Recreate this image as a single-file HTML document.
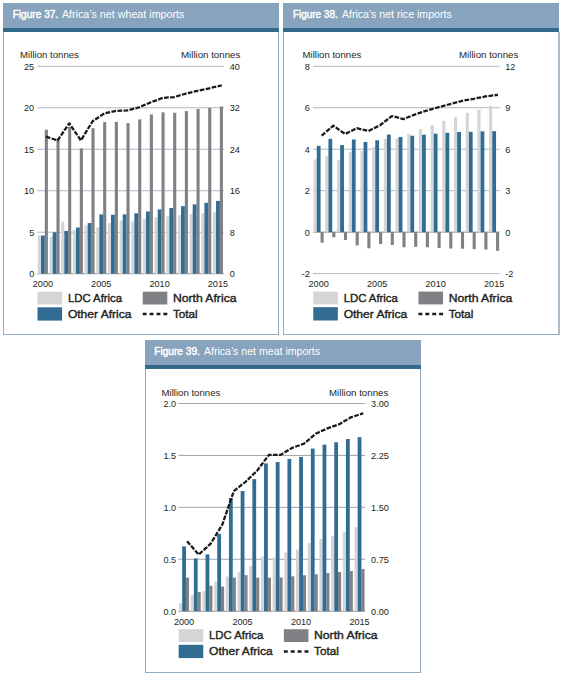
<!DOCTYPE html>
<html><head><meta charset="utf-8"><style>html,body{margin:0;padding:0;background:#fff;width:563px;height:676px;overflow:hidden}</style></head><body>
<svg width="563" height="676" viewBox="0 0 563 676" style="display:block" font-family='"Liberation Sans", sans-serif'>
<rect width="563" height="676" fill="#fff"/>
<rect x="3.5" y="3.5" width="275" height="331" fill="#fff" stroke="#93aac0" stroke-width="1"/>
<rect x="3" y="3" width="276" height="25" fill="#87a3bd"/>
<rect x="3" y="28" width="276" height="4" fill="#33698d"/>
<text x="12.7" y="17.5" font-size="10.2" font-weight="400" text-anchor="start" fill="#ffffff" textLength="45.5" lengthAdjust="spacingAndGlyphs" stroke="#ffffff" stroke-width="0.45">Figure 37.</text>
<text x="61.9" y="17.5" font-size="10.2" font-weight="400" text-anchor="start" fill="#ffffff" textLength="122.5" lengthAdjust="spacingAndGlyphs">Africa’s net wheat imports</text>
<line x1="37.3" x2="223.9" y1="66.3" y2="66.3" stroke="#adb9c6" stroke-width="1"/>
<line x1="37.3" x2="223.9" y1="107.78" y2="107.78" stroke="#adb9c6" stroke-width="1"/>
<line x1="37.3" x2="223.9" y1="149.26" y2="149.26" stroke="#adb9c6" stroke-width="1"/>
<line x1="37.3" x2="223.9" y1="190.74" y2="190.74" stroke="#adb9c6" stroke-width="1"/>
<line x1="37.3" x2="223.9" y1="232.22" y2="232.22" stroke="#adb9c6" stroke-width="1"/>
<line x1="37.3" x2="223.9" y1="273.7" y2="273.7" stroke="#8a8a8a" stroke-width="1"/>
<rect x="37.85" y="235.54" width="3.15" height="38.16" fill="#d4d5d7"/>
<rect x="44.8" y="129.68" width="3.1" height="144.02" fill="#808184"/>
<rect x="41" y="235.54" width="3.8" height="38.16" fill="#336c92"/>
<rect x="49.52" y="236.78" width="3.15" height="36.92" fill="#d4d5d7"/>
<rect x="56.47" y="138.81" width="3.1" height="134.89" fill="#808184"/>
<rect x="52.67" y="232.3" width="3.8" height="41.4" fill="#336c92"/>
<rect x="61.19" y="221.68" width="3.15" height="52.02" fill="#d4d5d7"/>
<rect x="68.14" y="126.78" width="3.1" height="146.92" fill="#808184"/>
<rect x="64.34" y="230.98" width="3.8" height="42.72" fill="#336c92"/>
<rect x="72.86" y="229.9" width="3.15" height="43.8" fill="#d4d5d7"/>
<rect x="79.81" y="148.35" width="3.1" height="125.35" fill="#808184"/>
<rect x="76.01" y="227.49" width="3.8" height="46.21" fill="#336c92"/>
<rect x="84.53" y="225.33" width="3.15" height="48.37" fill="#d4d5d7"/>
<rect x="91.48" y="128.11" width="3.1" height="145.59" fill="#808184"/>
<rect x="87.68" y="223.09" width="3.8" height="50.61" fill="#336c92"/>
<rect x="96.2" y="227.24" width="3.15" height="46.46" fill="#d4d5d7"/>
<rect x="103.15" y="122.13" width="3.1" height="151.57" fill="#808184"/>
<rect x="99.35" y="214.38" width="3.8" height="59.32" fill="#336c92"/>
<rect x="107.87" y="223.09" width="3.15" height="50.61" fill="#d4d5d7"/>
<rect x="114.82" y="121.88" width="3.1" height="151.82" fill="#808184"/>
<rect x="111.02" y="214.8" width="3.8" height="58.9" fill="#336c92"/>
<rect x="119.54" y="220.61" width="3.15" height="53.09" fill="#d4d5d7"/>
<rect x="126.49" y="123.13" width="3.1" height="150.57" fill="#808184"/>
<rect x="122.69" y="214.38" width="3.8" height="59.32" fill="#336c92"/>
<rect x="131.21" y="221.44" width="3.15" height="52.26" fill="#d4d5d7"/>
<rect x="138.16" y="119.39" width="3.1" height="154.31" fill="#808184"/>
<rect x="134.36" y="213.31" width="3.8" height="60.39" fill="#336c92"/>
<rect x="142.88" y="218.95" width="3.15" height="54.75" fill="#d4d5d7"/>
<rect x="149.83" y="114.42" width="3.1" height="159.28" fill="#808184"/>
<rect x="146.03" y="211.48" width="3.8" height="62.22" fill="#336c92"/>
<rect x="154.55" y="217.29" width="3.15" height="56.41" fill="#d4d5d7"/>
<rect x="161.5" y="112.34" width="3.1" height="161.36" fill="#808184"/>
<rect x="157.7" y="209.41" width="3.8" height="64.29" fill="#336c92"/>
<rect x="166.22" y="216.46" width="3.15" height="57.24" fill="#d4d5d7"/>
<rect x="173.17" y="112.76" width="3.1" height="160.94" fill="#808184"/>
<rect x="169.37" y="208" width="3.8" height="65.7" fill="#336c92"/>
<rect x="177.89" y="215.05" width="3.15" height="58.65" fill="#d4d5d7"/>
<rect x="184.84" y="111.1" width="3.1" height="162.6" fill="#808184"/>
<rect x="181.04" y="206.17" width="3.8" height="67.53" fill="#336c92"/>
<rect x="189.56" y="213.97" width="3.15" height="59.73" fill="#d4d5d7"/>
<rect x="196.51" y="109.02" width="3.1" height="164.68" fill="#808184"/>
<rect x="192.71" y="204.35" width="3.8" height="69.35" fill="#336c92"/>
<rect x="201.23" y="213.14" width="3.15" height="60.56" fill="#d4d5d7"/>
<rect x="208.18" y="107.78" width="3.1" height="165.92" fill="#808184"/>
<rect x="204.38" y="202.77" width="3.8" height="70.93" fill="#336c92"/>
<rect x="212.9" y="211.89" width="3.15" height="61.81" fill="#d4d5d7"/>
<rect x="219.85" y="106.54" width="3.1" height="167.16" fill="#808184"/>
<rect x="216.05" y="200.94" width="3.8" height="72.76" fill="#336c92"/>
<polyline points="45.9,136.56 57.57,140.45 69.24,123.34 80.91,140.45 92.58,121.26 104.25,113.48 115.92,110.89 127.59,110.37 139.26,107.26 150.93,102.28 162.6,97.93 174.27,97.05 185.94,93.57 197.61,90.77 209.28,88.28 221.73,85.41" fill="none" stroke="#1a1a1a" stroke-width="2.3" stroke-dasharray="4.7 1.4" stroke-linejoin="round"/>
<text x="34.2" y="69.9" font-size="9.9" font-weight="400" text-anchor="end" fill="#231f20" textLength="10.14" lengthAdjust="spacingAndGlyphs">25</text>
<text x="229.7" y="69.9" font-size="9.9" font-weight="400" text-anchor="start" fill="#231f20" textLength="10.14" lengthAdjust="spacingAndGlyphs">40</text>
<text x="34.2" y="111.38" font-size="9.9" font-weight="400" text-anchor="end" fill="#231f20" textLength="10.14" lengthAdjust="spacingAndGlyphs">20</text>
<text x="229.7" y="111.38" font-size="9.9" font-weight="400" text-anchor="start" fill="#231f20" textLength="10.14" lengthAdjust="spacingAndGlyphs">32</text>
<text x="34.2" y="152.86" font-size="9.9" font-weight="400" text-anchor="end" fill="#231f20" textLength="10.14" lengthAdjust="spacingAndGlyphs">15</text>
<text x="229.7" y="152.86" font-size="9.9" font-weight="400" text-anchor="start" fill="#231f20" textLength="10.14" lengthAdjust="spacingAndGlyphs">24</text>
<text x="34.2" y="194.34" font-size="9.9" font-weight="400" text-anchor="end" fill="#231f20" textLength="10.14" lengthAdjust="spacingAndGlyphs">10</text>
<text x="229.7" y="194.34" font-size="9.9" font-weight="400" text-anchor="start" fill="#231f20" textLength="10.14" lengthAdjust="spacingAndGlyphs">16</text>
<text x="34.2" y="235.82" font-size="9.9" font-weight="400" text-anchor="end" fill="#231f20" textLength="5.07" lengthAdjust="spacingAndGlyphs">5</text>
<text x="229.7" y="235.82" font-size="9.9" font-weight="400" text-anchor="start" fill="#231f20" textLength="5.07" lengthAdjust="spacingAndGlyphs">8</text>
<text x="34.2" y="277.3" font-size="9.9" font-weight="400" text-anchor="end" fill="#231f20" textLength="5.07" lengthAdjust="spacingAndGlyphs">0</text>
<text x="229.7" y="277.3" font-size="9.9" font-weight="400" text-anchor="start" fill="#231f20" textLength="5.07" lengthAdjust="spacingAndGlyphs">0</text>
<text x="42.9" y="287.3" font-size="9.8" font-weight="400" text-anchor="middle" fill="#231f20" textLength="20.3" lengthAdjust="spacingAndGlyphs">2000</text>
<text x="101.25" y="287.3" font-size="9.8" font-weight="400" text-anchor="middle" fill="#231f20" textLength="20.3" lengthAdjust="spacingAndGlyphs">2005</text>
<text x="159.6" y="287.3" font-size="9.8" font-weight="400" text-anchor="middle" fill="#231f20" textLength="20.3" lengthAdjust="spacingAndGlyphs">2010</text>
<text x="217.95" y="287.3" font-size="9.8" font-weight="400" text-anchor="middle" fill="#231f20" textLength="20.3" lengthAdjust="spacingAndGlyphs">2015</text>
<text x="20.1" y="58.2" font-size="9.5" font-weight="400" text-anchor="start" fill="#231f20" textLength="58.8" lengthAdjust="spacingAndGlyphs">Million tonnes</text>
<text x="240.3" y="58.2" font-size="9.5" font-weight="400" text-anchor="end" fill="#231f20" textLength="59.3" lengthAdjust="spacingAndGlyphs">Million tonnes</text>
<rect x="37.5" y="291.7" width="24.6" height="12.8" fill="#d4d5d7"/>
<rect x="37.5" y="307.3" width="24.6" height="13.3" fill="#336c92"/>
<rect x="142.7" y="291.7" width="24.6" height="12.8" fill="#808184"/>
<line x1="142.7" x2="167.3" y1="314" y2="314" stroke="#1a1a1a" stroke-width="2.5" stroke-dasharray="3.9 3.0"/>
<text x="67.9" y="301.6" font-size="11" font-weight="400" text-anchor="start" fill="#231f20" textLength="54.2" lengthAdjust="spacingAndGlyphs" stroke="#231f20" stroke-width="0.38">LDC Africa</text>
<text x="67.9" y="317.6" font-size="11" font-weight="400" text-anchor="start" fill="#231f20" textLength="63.6" lengthAdjust="spacingAndGlyphs" stroke="#231f20" stroke-width="0.38">Other Africa</text>
<text x="172.9" y="301.6" font-size="11" font-weight="400" text-anchor="start" fill="#231f20" textLength="63.6" lengthAdjust="spacingAndGlyphs" stroke="#231f20" stroke-width="0.38">North Africa</text>
<text x="172.9" y="317.6" font-size="11" font-weight="400" text-anchor="start" fill="#231f20" textLength="24.8" lengthAdjust="spacingAndGlyphs" stroke="#231f20" stroke-width="0.38">Total</text>
<rect x="283.5" y="3.5" width="275" height="331" fill="#fff" stroke="#93aac0" stroke-width="1"/>
<rect x="283" y="3" width="276" height="25" fill="#87a3bd"/>
<rect x="283" y="28" width="276" height="4" fill="#33698d"/>
<text x="292.9" y="17.5" font-size="10.2" font-weight="400" text-anchor="start" fill="#ffffff" textLength="44.8" lengthAdjust="spacingAndGlyphs" stroke="#ffffff" stroke-width="0.45">Figure 38.</text>
<text x="341.9" y="17.5" font-size="10.2" font-weight="400" text-anchor="start" fill="#ffffff" textLength="109.8" lengthAdjust="spacingAndGlyphs">Africa’s net rice imports</text>
<line x1="313.05" x2="499.65" y1="66.3" y2="66.3" stroke="#adb9c6" stroke-width="1"/>
<line x1="313.05" x2="499.65" y1="107.76" y2="107.76" stroke="#adb9c6" stroke-width="1"/>
<line x1="313.05" x2="499.65" y1="149.22" y2="149.22" stroke="#adb9c6" stroke-width="1"/>
<line x1="313.05" x2="499.65" y1="190.68" y2="190.68" stroke="#adb9c6" stroke-width="1"/>
<line x1="313.05" x2="499.65" y1="273.6" y2="273.6" stroke="#adb9c6" stroke-width="1"/>
<line x1="313.05" x2="499.65" y1="232.14" y2="232.14" stroke="#8a8a8a" stroke-width="1"/>
<rect x="313.6" y="159.38" width="3.15" height="72.76" fill="#d4d5d7"/>
<rect x="320.55" y="232.14" width="3.1" height="10.57" fill="#808184"/>
<rect x="316.75" y="145.9" width="3.8" height="86.24" fill="#336c92"/>
<rect x="325.3" y="155.65" width="3.15" height="76.49" fill="#d4d5d7"/>
<rect x="332.25" y="232.14" width="3.1" height="5.18" fill="#808184"/>
<rect x="328.45" y="138.86" width="3.8" height="93.28" fill="#336c92"/>
<rect x="337" y="160" width="3.15" height="72.14" fill="#d4d5d7"/>
<rect x="343.95" y="232.14" width="3.1" height="7.88" fill="#808184"/>
<rect x="340.15" y="145.07" width="3.8" height="87.07" fill="#336c92"/>
<rect x="348.7" y="151.91" width="3.15" height="80.23" fill="#d4d5d7"/>
<rect x="355.65" y="232.14" width="3.1" height="13.27" fill="#808184"/>
<rect x="351.85" y="139.48" width="3.8" height="92.66" fill="#336c92"/>
<rect x="360.4" y="150.88" width="3.15" height="81.26" fill="#d4d5d7"/>
<rect x="367.35" y="232.14" width="3.1" height="16.17" fill="#808184"/>
<rect x="363.55" y="141.96" width="3.8" height="90.18" fill="#336c92"/>
<rect x="372.1" y="146.94" width="3.15" height="85.2" fill="#d4d5d7"/>
<rect x="379.05" y="232.14" width="3.1" height="11.82" fill="#808184"/>
<rect x="375.25" y="140.31" width="3.8" height="91.83" fill="#336c92"/>
<rect x="383.8" y="138.86" width="3.15" height="93.28" fill="#d4d5d7"/>
<rect x="390.75" y="232.14" width="3.1" height="12.85" fill="#808184"/>
<rect x="386.95" y="134.5" width="3.8" height="97.64" fill="#336c92"/>
<rect x="395.5" y="138.44" width="3.15" height="93.7" fill="#d4d5d7"/>
<rect x="402.45" y="232.14" width="3.1" height="15.13" fill="#808184"/>
<rect x="398.65" y="136.99" width="3.8" height="95.15" fill="#336c92"/>
<rect x="407.2" y="133.88" width="3.15" height="98.26" fill="#d4d5d7"/>
<rect x="414.15" y="232.14" width="3.1" height="14.72" fill="#808184"/>
<rect x="410.35" y="135.75" width="3.8" height="96.39" fill="#336c92"/>
<rect x="418.9" y="128.9" width="3.15" height="103.24" fill="#d4d5d7"/>
<rect x="425.85" y="232.14" width="3.1" height="15.13" fill="#808184"/>
<rect x="422.05" y="134.71" width="3.8" height="97.43" fill="#336c92"/>
<rect x="430.6" y="125.17" width="3.15" height="106.97" fill="#d4d5d7"/>
<rect x="437.55" y="232.14" width="3.1" height="15.75" fill="#808184"/>
<rect x="433.75" y="133.67" width="3.8" height="98.47" fill="#336c92"/>
<rect x="442.3" y="120.82" width="3.15" height="111.32" fill="#d4d5d7"/>
<rect x="449.25" y="232.14" width="3.1" height="16.38" fill="#808184"/>
<rect x="445.45" y="132.84" width="3.8" height="99.3" fill="#336c92"/>
<rect x="454" y="116.88" width="3.15" height="115.26" fill="#d4d5d7"/>
<rect x="460.95" y="232.14" width="3.1" height="16.58" fill="#808184"/>
<rect x="457.15" y="132.01" width="3.8" height="100.13" fill="#336c92"/>
<rect x="465.7" y="112.94" width="3.15" height="119.2" fill="#d4d5d7"/>
<rect x="472.65" y="232.14" width="3.1" height="17" fill="#808184"/>
<rect x="468.85" y="131.81" width="3.8" height="100.33" fill="#336c92"/>
<rect x="477.4" y="109.83" width="3.15" height="122.31" fill="#d4d5d7"/>
<rect x="484.35" y="232.14" width="3.1" height="17.41" fill="#808184"/>
<rect x="480.55" y="131.39" width="3.8" height="100.75" fill="#336c92"/>
<rect x="489.1" y="105.89" width="3.15" height="126.25" fill="#d4d5d7"/>
<rect x="496.05" y="232.14" width="3.1" height="18.66" fill="#808184"/>
<rect x="492.25" y="131.18" width="3.8" height="100.96" fill="#336c92"/>
<polyline points="321.65,135.68 333.35,125.73 345.05,134.02 356.75,128.21 368.45,130.98 380.15,125.17 391.85,116.05 403.55,119.09 415.25,114.39 426.95,110.52 438.65,107.21 450.35,104.03 462.05,100.85 473.75,98.78 485.45,96.43 497.94,94.8" fill="none" stroke="#1a1a1a" stroke-width="2.3" stroke-dasharray="4.7 1.4" stroke-linejoin="round"/>
<text x="309.9" y="69.9" font-size="9.9" font-weight="400" text-anchor="end" fill="#231f20" textLength="5.07" lengthAdjust="spacingAndGlyphs">8</text>
<text x="505.3" y="69.9" font-size="9.9" font-weight="400" text-anchor="start" fill="#231f20" textLength="10.14" lengthAdjust="spacingAndGlyphs">12</text>
<text x="309.9" y="111.36" font-size="9.9" font-weight="400" text-anchor="end" fill="#231f20" textLength="5.07" lengthAdjust="spacingAndGlyphs">6</text>
<text x="505.3" y="111.36" font-size="9.9" font-weight="400" text-anchor="start" fill="#231f20" textLength="5.07" lengthAdjust="spacingAndGlyphs">9</text>
<text x="309.9" y="152.82" font-size="9.9" font-weight="400" text-anchor="end" fill="#231f20" textLength="5.07" lengthAdjust="spacingAndGlyphs">4</text>
<text x="505.3" y="152.82" font-size="9.9" font-weight="400" text-anchor="start" fill="#231f20" textLength="5.07" lengthAdjust="spacingAndGlyphs">6</text>
<text x="309.9" y="194.28" font-size="9.9" font-weight="400" text-anchor="end" fill="#231f20" textLength="5.07" lengthAdjust="spacingAndGlyphs">2</text>
<text x="505.3" y="194.28" font-size="9.9" font-weight="400" text-anchor="start" fill="#231f20" textLength="5.07" lengthAdjust="spacingAndGlyphs">3</text>
<text x="309.9" y="235.74" font-size="9.9" font-weight="400" text-anchor="end" fill="#231f20" textLength="5.07" lengthAdjust="spacingAndGlyphs">0</text>
<text x="505.3" y="235.74" font-size="9.9" font-weight="400" text-anchor="start" fill="#231f20" textLength="5.07" lengthAdjust="spacingAndGlyphs">0</text>
<text x="309.9" y="277.2" font-size="9.9" font-weight="400" text-anchor="end" fill="#231f20" textLength="8.11" lengthAdjust="spacingAndGlyphs">-2</text>
<text x="505.3" y="277.2" font-size="9.9" font-weight="400" text-anchor="start" fill="#231f20" textLength="8.11" lengthAdjust="spacingAndGlyphs">-2</text>
<text x="318.65" y="287.2" font-size="9.8" font-weight="400" text-anchor="middle" fill="#231f20" textLength="20.3" lengthAdjust="spacingAndGlyphs">2000</text>
<text x="377.15" y="287.2" font-size="9.8" font-weight="400" text-anchor="middle" fill="#231f20" textLength="20.3" lengthAdjust="spacingAndGlyphs">2005</text>
<text x="435.65" y="287.2" font-size="9.8" font-weight="400" text-anchor="middle" fill="#231f20" textLength="20.3" lengthAdjust="spacingAndGlyphs">2010</text>
<text x="494.15" y="287.2" font-size="9.8" font-weight="400" text-anchor="middle" fill="#231f20" textLength="20.3" lengthAdjust="spacingAndGlyphs">2015</text>
<text x="302.5" y="58.2" font-size="9.5" font-weight="400" text-anchor="start" fill="#231f20" textLength="58.8" lengthAdjust="spacingAndGlyphs">Million tonnes</text>
<text x="518.3" y="58.2" font-size="9.5" font-weight="400" text-anchor="end" fill="#231f20" textLength="59.3" lengthAdjust="spacingAndGlyphs">Million tonnes</text>
<rect x="313.25" y="291.6" width="24.6" height="12.8" fill="#d4d5d7"/>
<rect x="313.25" y="307.2" width="24.6" height="13.3" fill="#336c92"/>
<rect x="418.45" y="291.6" width="24.6" height="12.8" fill="#808184"/>
<line x1="418.45" x2="443.05" y1="313.9" y2="313.9" stroke="#1a1a1a" stroke-width="2.5" stroke-dasharray="3.9 3.0"/>
<text x="343.65" y="301.5" font-size="11" font-weight="400" text-anchor="start" fill="#231f20" textLength="54.2" lengthAdjust="spacingAndGlyphs" stroke="#231f20" stroke-width="0.38">LDC Africa</text>
<text x="343.65" y="317.5" font-size="11" font-weight="400" text-anchor="start" fill="#231f20" textLength="63.6" lengthAdjust="spacingAndGlyphs" stroke="#231f20" stroke-width="0.38">Other Africa</text>
<text x="448.65" y="301.5" font-size="11" font-weight="400" text-anchor="start" fill="#231f20" textLength="63.6" lengthAdjust="spacingAndGlyphs" stroke="#231f20" stroke-width="0.38">North Africa</text>
<text x="448.65" y="317.5" font-size="11" font-weight="400" text-anchor="start" fill="#231f20" textLength="24.8" lengthAdjust="spacingAndGlyphs" stroke="#231f20" stroke-width="0.38">Total</text>
<rect x="145.5" y="340.5" width="275" height="332" fill="#fff" stroke="#93aac0" stroke-width="1"/>
<rect x="145" y="340" width="276" height="25" fill="#87a3bd"/>
<rect x="145" y="365" width="276" height="4" fill="#33698d"/>
<text x="154.3" y="354.5" font-size="10.2" font-weight="400" text-anchor="start" fill="#ffffff" textLength="45.6" lengthAdjust="spacingAndGlyphs" stroke="#ffffff" stroke-width="0.45">Figure 39.</text>
<text x="203.9" y="354.5" font-size="10.2" font-weight="400" text-anchor="start" fill="#ffffff" textLength="116.2" lengthAdjust="spacingAndGlyphs">Africa’s net meat imports</text>
<line x1="178.45" x2="365.05" y1="403.5" y2="403.5" stroke="#a4a5a9" stroke-width="1"/>
<line x1="178.45" x2="365.05" y1="455.43" y2="455.43" stroke="#a4a5a9" stroke-width="1"/>
<line x1="178.45" x2="365.05" y1="507.35" y2="507.35" stroke="#a4a5a9" stroke-width="1"/>
<line x1="178.45" x2="365.05" y1="559.28" y2="559.28" stroke="#a4a5a9" stroke-width="1"/>
<line x1="178.45" x2="365.05" y1="611.2" y2="611.2" stroke="#8a8a8a" stroke-width="1"/>
<rect x="179" y="603.1" width="3.15" height="8.1" fill="#d4d5d7"/>
<rect x="185.95" y="577.66" width="3.1" height="33.54" fill="#808184"/>
<rect x="182.15" y="546.4" width="3.8" height="64.8" fill="#336c92"/>
<rect x="190.7" y="595.1" width="3.15" height="16.1" fill="#d4d5d7"/>
<rect x="197.65" y="591.99" width="3.1" height="19.21" fill="#808184"/>
<rect x="193.85" y="558.44" width="3.8" height="52.76" fill="#336c92"/>
<rect x="202.4" y="591.05" width="3.15" height="20.15" fill="#d4d5d7"/>
<rect x="209.35" y="585.76" width="3.1" height="25.44" fill="#808184"/>
<rect x="205.55" y="554.39" width="3.8" height="56.81" fill="#336c92"/>
<rect x="214.1" y="581.6" width="3.15" height="29.6" fill="#d4d5d7"/>
<rect x="221.05" y="586.59" width="3.1" height="24.61" fill="#808184"/>
<rect x="217.25" y="533.94" width="3.8" height="77.26" fill="#336c92"/>
<rect x="225.8" y="576.51" width="3.15" height="34.69" fill="#d4d5d7"/>
<rect x="232.75" y="577.66" width="3.1" height="33.54" fill="#808184"/>
<rect x="228.95" y="498" width="3.8" height="113.2" fill="#336c92"/>
<rect x="237.5" y="572.26" width="3.15" height="38.94" fill="#d4d5d7"/>
<rect x="244.45" y="575.16" width="3.1" height="36.04" fill="#808184"/>
<rect x="240.65" y="491.05" width="3.8" height="120.15" fill="#336c92"/>
<rect x="249.2" y="565.92" width="3.15" height="45.28" fill="#d4d5d7"/>
<rect x="256.15" y="577.66" width="3.1" height="33.54" fill="#808184"/>
<rect x="252.35" y="479.1" width="3.8" height="132.1" fill="#336c92"/>
<rect x="260.9" y="556.57" width="3.15" height="54.63" fill="#d4d5d7"/>
<rect x="267.85" y="577.66" width="3.1" height="33.54" fill="#808184"/>
<rect x="264.05" y="463.42" width="3.8" height="147.78" fill="#336c92"/>
<rect x="272.6" y="557.61" width="3.15" height="53.59" fill="#d4d5d7"/>
<rect x="279.55" y="577.45" width="3.1" height="33.75" fill="#808184"/>
<rect x="275.75" y="462.07" width="3.8" height="149.13" fill="#336c92"/>
<rect x="284.3" y="552.21" width="3.15" height="58.99" fill="#d4d5d7"/>
<rect x="291.25" y="576.31" width="3.1" height="34.89" fill="#808184"/>
<rect x="287.45" y="458.96" width="3.8" height="152.24" fill="#336c92"/>
<rect x="296" y="549.51" width="3.15" height="61.69" fill="#d4d5d7"/>
<rect x="302.95" y="575.27" width="3.1" height="35.93" fill="#808184"/>
<rect x="299.15" y="456.98" width="3.8" height="154.22" fill="#336c92"/>
<rect x="307.7" y="543.07" width="3.15" height="68.13" fill="#d4d5d7"/>
<rect x="314.65" y="574.23" width="3.1" height="36.97" fill="#808184"/>
<rect x="310.85" y="448.57" width="3.8" height="162.63" fill="#336c92"/>
<rect x="319.4" y="539.02" width="3.15" height="72.18" fill="#d4d5d7"/>
<rect x="326.35" y="573.09" width="3.1" height="38.11" fill="#808184"/>
<rect x="322.55" y="444.62" width="3.8" height="166.58" fill="#336c92"/>
<rect x="331.1" y="535.8" width="3.15" height="75.4" fill="#d4d5d7"/>
<rect x="338.05" y="572.05" width="3.1" height="39.15" fill="#808184"/>
<rect x="334.25" y="442.24" width="3.8" height="168.96" fill="#336c92"/>
<rect x="342.8" y="531.55" width="3.15" height="79.65" fill="#d4d5d7"/>
<rect x="349.75" y="571.01" width="3.1" height="40.19" fill="#808184"/>
<rect x="345.95" y="439.02" width="3.8" height="172.18" fill="#336c92"/>
<rect x="354.5" y="527.29" width="3.15" height="83.91" fill="#d4d5d7"/>
<rect x="361.45" y="568.93" width="3.1" height="42.27" fill="#808184"/>
<rect x="357.65" y="437.15" width="3.8" height="174.05" fill="#336c92"/>
<polyline points="187.05,541.27 198.75,554.57 210.45,543.91 222.15,525 233.85,491.08 245.55,481.8 257.25,470.52 268.95,454.87 280.65,454.87 292.35,447.81 304.05,443.66 315.75,433.69 327.45,428.42 339.15,424.27 350.85,417.35 363.31,413.22" fill="none" stroke="#1a1a1a" stroke-width="2.3" stroke-dasharray="4.7 1.4" stroke-linejoin="round"/>
<text x="176.2" y="407.1" font-size="9.9" font-weight="400" text-anchor="end" fill="#231f20" textLength="12.68" lengthAdjust="spacingAndGlyphs">2.0</text>
<text x="371.1" y="407.1" font-size="9.9" font-weight="400" text-anchor="start" fill="#231f20" textLength="17.75" lengthAdjust="spacingAndGlyphs">3.00</text>
<text x="176.2" y="459.03" font-size="9.9" font-weight="400" text-anchor="end" fill="#231f20" textLength="12.68" lengthAdjust="spacingAndGlyphs">1.5</text>
<text x="371.1" y="459.03" font-size="9.9" font-weight="400" text-anchor="start" fill="#231f20" textLength="17.75" lengthAdjust="spacingAndGlyphs">2.25</text>
<text x="176.2" y="510.95" font-size="9.9" font-weight="400" text-anchor="end" fill="#231f20" textLength="12.68" lengthAdjust="spacingAndGlyphs">1.0</text>
<text x="371.1" y="510.95" font-size="9.9" font-weight="400" text-anchor="start" fill="#231f20" textLength="17.75" lengthAdjust="spacingAndGlyphs">1.50</text>
<text x="176.2" y="562.88" font-size="9.9" font-weight="400" text-anchor="end" fill="#231f20" textLength="12.68" lengthAdjust="spacingAndGlyphs">0.5</text>
<text x="371.1" y="562.88" font-size="9.9" font-weight="400" text-anchor="start" fill="#231f20" textLength="17.75" lengthAdjust="spacingAndGlyphs">0.75</text>
<text x="176.2" y="614.8" font-size="9.9" font-weight="400" text-anchor="end" fill="#231f20" textLength="12.68" lengthAdjust="spacingAndGlyphs">0.0</text>
<text x="371.1" y="614.8" font-size="9.9" font-weight="400" text-anchor="start" fill="#231f20" textLength="17.75" lengthAdjust="spacingAndGlyphs">0.00</text>
<text x="184.05" y="624.8" font-size="9.8" font-weight="400" text-anchor="middle" fill="#231f20" textLength="20.3" lengthAdjust="spacingAndGlyphs">2000</text>
<text x="242.55" y="624.8" font-size="9.8" font-weight="400" text-anchor="middle" fill="#231f20" textLength="20.3" lengthAdjust="spacingAndGlyphs">2005</text>
<text x="301.05" y="624.8" font-size="9.8" font-weight="400" text-anchor="middle" fill="#231f20" textLength="20.3" lengthAdjust="spacingAndGlyphs">2010</text>
<text x="359.55" y="624.8" font-size="9.8" font-weight="400" text-anchor="middle" fill="#231f20" textLength="20.3" lengthAdjust="spacingAndGlyphs">2015</text>
<text x="161.5" y="396" font-size="9.5" font-weight="400" text-anchor="start" fill="#231f20" textLength="58.8" lengthAdjust="spacingAndGlyphs">Million tonnes</text>
<text x="388.3" y="396" font-size="9.5" font-weight="400" text-anchor="end" fill="#231f20" textLength="59.3" lengthAdjust="spacingAndGlyphs">Million tonnes</text>
<rect x="178.65" y="629.2" width="24.6" height="12.8" fill="#d4d5d7"/>
<rect x="178.65" y="644.8" width="24.6" height="13.3" fill="#336c92"/>
<rect x="283.85" y="629.2" width="24.6" height="12.8" fill="#808184"/>
<line x1="283.85" x2="308.45" y1="651.5" y2="651.5" stroke="#1a1a1a" stroke-width="2.5" stroke-dasharray="3.9 3.0"/>
<text x="209.05" y="639.1" font-size="11" font-weight="400" text-anchor="start" fill="#231f20" textLength="54.2" lengthAdjust="spacingAndGlyphs" stroke="#231f20" stroke-width="0.38">LDC Africa</text>
<text x="209.05" y="655.1" font-size="11" font-weight="400" text-anchor="start" fill="#231f20" textLength="63.6" lengthAdjust="spacingAndGlyphs" stroke="#231f20" stroke-width="0.38">Other Africa</text>
<text x="314.05" y="639.1" font-size="11" font-weight="400" text-anchor="start" fill="#231f20" textLength="63.6" lengthAdjust="spacingAndGlyphs" stroke="#231f20" stroke-width="0.38">North Africa</text>
<text x="314.05" y="655.1" font-size="11" font-weight="400" text-anchor="start" fill="#231f20" textLength="24.8" lengthAdjust="spacingAndGlyphs" stroke="#231f20" stroke-width="0.38">Total</text>
<rect x="558" y="32" width="2" height="303" fill="#abbdcd"/>
</svg>
</body></html>
